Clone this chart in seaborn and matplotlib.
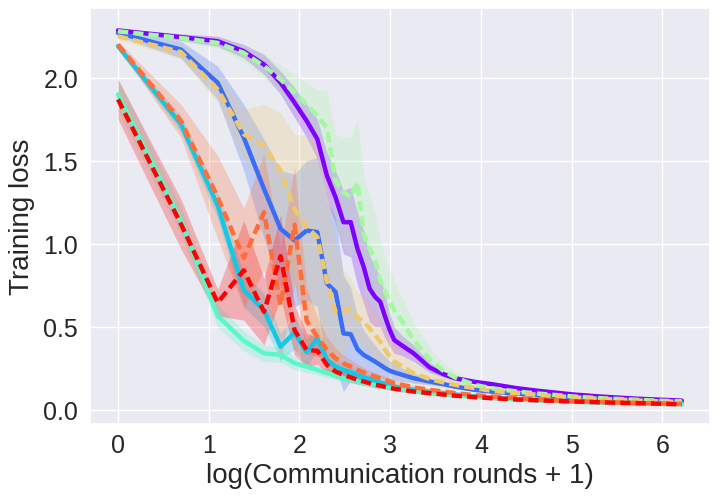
import numpy as np
import matplotlib
matplotlib.use('Agg')
import matplotlib.pyplot as plt
import seaborn as sns

# communication rounds at which the loss was recorded
rounds = list(range(0, 21)) + [22, 25, 30, 35, 40, 50, 60, 80, 100, 150, 200, 300, 400, 499]

# mean training loss and half-width of the shaded band, one pair per run
loss_purple = [2.285, 2.245, 2.22, 2.16, 2.08, 1.97, 1.85, 1.74, 1.63, 1.41, 1.28, 1.13, 1.13, 0.97, 0.86,
               0.73, 0.68, 0.65, 0.56, 0.48, 0.42, 0.385, 0.34, 0.255, 0.215, 0.19, 0.168, 0.155, 0.13,
               0.115, 0.092, 0.08, 0.067, 0.06, 0.055]
band_purple = [0.01, 0.02, 0.03, 0.04, 0.06, 0.07, 0.09, 0.10, 0.12, 0.14, 0.16, 0.19, 0.21, 0.22, 0.22,
               0.2, 0.18, 0.15, 0.13, 0.1, 0.08, 0.06, 0.05, 0.03, 0.02, 0.015, 0.01, 0.008, 0.006,
               0.005, 0.004, 0.003, 0.003, 0.002, 0.002]

loss_blue = [2.27, 2.17, 1.97, 1.64, 1.33, 1.09, 1.02, 1.08, 1.07, 0.76, 0.71, 0.46, 0.455, 0.365, 0.33,
             0.31, 0.29, 0.27, 0.25, 0.235, 0.225, 0.21, 0.19, 0.17, 0.155, 0.14, 0.12, 0.11, 0.097,
             0.088, 0.073, 0.065, 0.056, 0.05, 0.047]
band_blue = [0.02, 0.05, 0.1, 0.2, 0.3, 0.35, 0.4, 0.42, 0.45, 0.5, 0.45, 0.35, 0.28, 0.2, 0.15,
             0.12, 0.1, 0.08, 0.07, 0.06, 0.05, 0.04, 0.03, 0.02, 0.015, 0.012, 0.01, 0.008, 0.006,
             0.005, 0.004, 0.003, 0.003, 0.002, 0.002]

loss_cyan = [2.19, 1.72, 1.23, 0.72, 0.60, 0.38, 0.465, 0.345, 0.43, 0.30, 0.26, 0.24, 0.225, 0.21, 0.195,
             0.185, 0.175, 0.165, 0.155, 0.148, 0.14, 0.13, 0.12, 0.108, 0.1, 0.092, 0.08, 0.073, 0.064,
             0.058, 0.05, 0.045, 0.04, 0.037, 0.035]
band_cyan = [0.02, 0.05, 0.08, 0.1, 0.1, 0.08, 0.1, 0.08, 0.08, 0.06, 0.05, 0.04, 0.035, 0.03, 0.028,
             0.025, 0.022, 0.02, 0.018, 0.016, 0.015, 0.013, 0.011, 0.009, 0.008, 0.007, 0.006, 0.005, 0.004,
             0.004, 0.003, 0.003, 0.002, 0.002, 0.002]

loss_aqua = [1.90, 1.14, 0.565, 0.415, 0.34, 0.33, 0.28, 0.26, 0.24, 0.22, 0.205, 0.19, 0.18, 0.17, 0.16,
             0.155, 0.148, 0.142, 0.137, 0.132, 0.128, 0.12, 0.112, 0.1, 0.093, 0.087, 0.077, 0.07, 0.062,
             0.056, 0.048, 0.043, 0.038, 0.035, 0.033]
band_aqua = [0.1, 0.08, 0.07, 0.06, 0.05, 0.045, 0.04, 0.035, 0.03, 0.028, 0.025, 0.022, 0.02, 0.018, 0.016,
             0.015, 0.014, 0.013, 0.012, 0.011, 0.01, 0.009, 0.008, 0.007, 0.006, 0.005, 0.005, 0.004, 0.004,
             0.003, 0.003, 0.002, 0.002, 0.002, 0.002]

loss_green = [2.28, 2.24, 2.21, 2.15, 2.07, 1.99, 1.91, 1.84, 1.77, 1.70, 1.38, 1.31, 1.28, 1.37, 1.06,
              0.97, 0.90, 0.78, 0.71, 0.65, 0.60, 0.53, 0.42, 0.305, 0.235, 0.195, 0.15, 0.13, 0.11,
              0.098, 0.08, 0.07, 0.06, 0.054, 0.05]
band_green = [0.01, 0.02, 0.03, 0.05, 0.07, 0.09, 0.11, 0.13, 0.16, 0.22, 0.28, 0.33, 0.36, 0.38, 0.35,
              0.32, 0.28, 0.24, 0.21, 0.19, 0.17, 0.14, 0.11, 0.07, 0.05, 0.035, 0.02, 0.015, 0.01,
              0.008, 0.006, 0.005, 0.004, 0.003, 0.003]

loss_tan = [2.25, 2.155, 1.93, 1.66, 1.59, 1.44, 1.21, 1.10, 1.04, 0.77, 0.59, 0.59, 0.61, 0.555, 0.53,
            0.49, 0.45, 0.41, 0.36, 0.32, 0.29, 0.26, 0.22, 0.185, 0.165, 0.15, 0.13, 0.115, 0.1,
            0.09, 0.075, 0.066, 0.056, 0.05, 0.047]
band_tan = [0.02, 0.04, 0.08, 0.15, 0.25, 0.35, 0.45, 0.55, 0.6, 0.55, 0.4, 0.25, 0.18, 0.16, 0.15,
            0.15, 0.14, 0.13, 0.12, 0.11, 0.1, 0.08, 0.06, 0.04, 0.03, 0.02, 0.015, 0.01, 0.008,
            0.006, 0.005, 0.004, 0.003, 0.003, 0.002]

loss_orange = [2.20, 1.74, 1.28, 0.915, 1.19, 0.63, 1.115, 0.535, 0.44, 0.36, 0.31, 0.28, 0.26, 0.24, 0.225,
               0.21, 0.2, 0.19, 0.18, 0.17, 0.16, 0.15, 0.135, 0.12, 0.11, 0.1, 0.088, 0.08, 0.07,
               0.062, 0.052, 0.047, 0.041, 0.038, 0.035]
band_orange = [0.02, 0.1, 0.25, 0.3, 0.35, 0.35, 0.35, 0.2, 0.12, 0.08, 0.06, 0.05, 0.04, 0.035, 0.03,
               0.028, 0.025, 0.022, 0.02, 0.018, 0.016, 0.014, 0.012, 0.01, 0.008, 0.007, 0.006, 0.005, 0.004,
               0.004, 0.003, 0.003, 0.002, 0.002, 0.002]

loss_red = [1.87, 1.12, 0.645, 0.84, 0.59, 0.925, 0.48, 0.36, 0.355, 0.27, 0.23, 0.21, 0.195, 0.18, 0.17,
            0.16, 0.15, 0.145, 0.138, 0.132, 0.127, 0.12, 0.11, 0.1, 0.092, 0.085, 0.076, 0.07, 0.062,
            0.057, 0.05, 0.045, 0.04, 0.036, 0.033]
band_red = [0.12, 0.15, 0.08, 0.3, 0.2, 0.25, 0.15, 0.1, 0.08, 0.05, 0.04, 0.03, 0.03, 0.025, 0.022,
            0.02, 0.018, 0.016, 0.015, 0.014, 0.013, 0.012, 0.01, 0.009, 0.008, 0.007, 0.006, 0.005, 0.004,
            0.004, 0.003, 0.003, 0.002, 0.002, 0.002]

runs = [
    (loss_purple, band_purple, '-'),
    (loss_blue, band_blue, '-'),
    (loss_cyan, band_cyan, '-'),
    (loss_aqua, band_aqua, '-'),
    (loss_green, band_green, '--'),
    (loss_tan, band_tan, '--'),
    (loss_orange, band_orange, '--'),
    (loss_red, band_red, '--'),
]

sns.set_theme(style='darkgrid')
plt.rcParams['font.family'] = ['Liberation Sans', 'DejaVu Sans']

colors = plt.cm.rainbow(np.linspace(0, 1, len(runs)))
x = np.log(np.array(rounds) + 1)

fig, ax = plt.subplots(figsize=(7.19, 5.02), dpi=100)
fig.subplots_adjust(left=0.125, right=0.9875, top=0.982, bottom=0.153)

for (loss, band, ls), c in zip(runs, colors):
    loss = np.array(loss)
    band = np.array(band)
    ax.fill_between(x, loss - band, loss + band, color=c, alpha=0.25, linewidth=0)
    sns.lineplot(x=x, y=loss, color=c, linewidth=3.2, ax=ax)
    if ls == '--':
        ax.lines[-1].set_dashes((2.3, 1.15))

ax.set_xlim(-0.31, 6.525)
ax.set_ylim(-0.087, 2.42)
ax.set_xticks([0, 1, 2, 3, 4, 5, 6])
ax.set_yticks([0.0, 0.5, 1.0, 1.5, 2.0])
ax.tick_params(axis='both', labelsize=18, length=0)
ax.tick_params(axis='y', pad=8.5)
ax.tick_params(axis='x', pad=6)
ax.set_xlabel('log(Communication rounds + 1)', fontsize=20, labelpad=4)
ax.set_ylabel('Training loss', fontsize=20, labelpad=6)

plt.savefig('out.png', dpi=100)
